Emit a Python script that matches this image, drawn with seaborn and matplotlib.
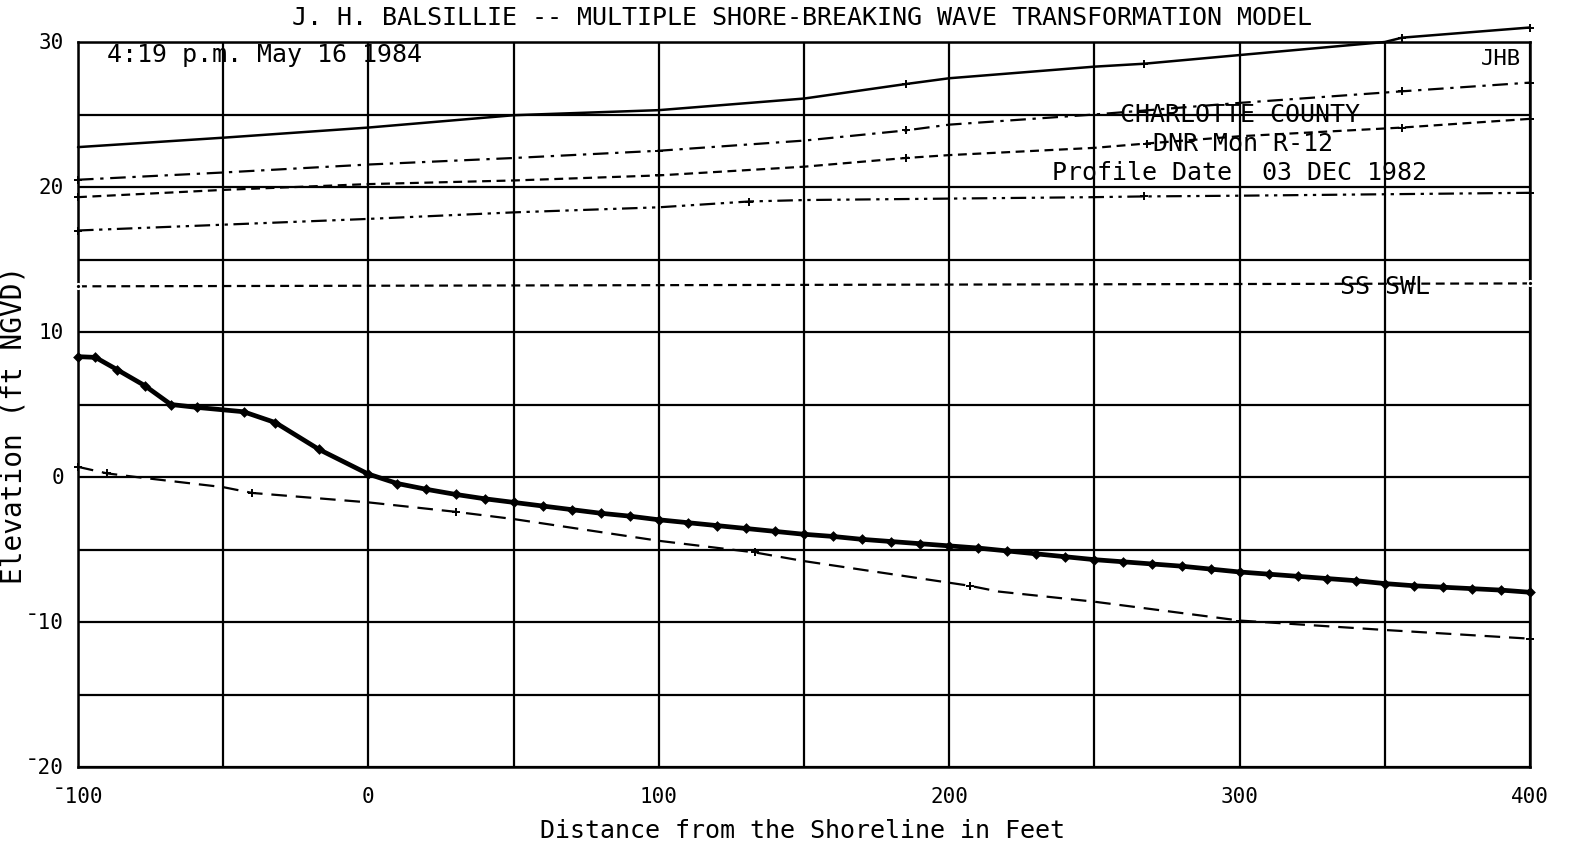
import numpy as np
import pandas as pd
import matplotlib
matplotlib.use("Agg")
import matplotlib.pyplot as plt
import seaborn as sns

# ---------------- data ----------------
# Upper solid line
s1_x = [-100, -50, 0, 50, 100, 150, 185, 200, 250, 267, 300, 350, 356, 400]
s1_y = [22.75, 23.4, 24.1, 24.95, 25.3, 26.1, 27.1, 27.5, 28.3, 28.5, 29.1, 30.0, 30.3, 31.0]
s1_mk = [100, 185, 267, 356, 400]

# Dash-dot line
s3_x = [-100, -50, 0, 50, 100, 150, 185, 200, 250, 300, 356, 400]
s3_y = [20.5, 21.0, 21.55, 22.0, 22.5, 23.2, 23.9, 24.3, 25.0, 25.8, 26.6, 27.2]
s3_mk = [-100, 100, 185, 356, 400]

# Dashed line
s4_x = [-100, -50, -25, 0, 50, 100, 150, 185, 200, 250, 268, 300, 356, 400]
s4_y = [19.3, 19.8, 20.0, 20.2, 20.45, 20.8, 21.4, 22.0, 22.2, 22.7, 23.0, 23.5, 24.1, 24.7]
s4_mk = [-100, 100, 185, 268, 356, 400]

# Dash-dot-dot line
s5_x = [-100, -50, 0, 50, 100, 131, 150, 200, 250, 267, 300, 350, 400]
s5_y = [17.0, 17.4, 17.8, 18.25, 18.6, 19.0, 19.1, 19.2, 19.3, 19.35, 19.4, 19.5, 19.6]
s5_mk = [-100, 131, 267, 400]

# Storm surge still water level (SS SWL)
swl_x = [-100, 400]
swl_y = [13.15, 13.35]

# Beach profile (thick line with markers)
prof_x = [-100, -94, -86.5, -77, -68, -59, -43, -32, -17, 0,
          10, 20, 30, 40, 50, 60, 70, 80, 90, 100,
          110, 120, 130, 140, 150, 160, 170, 180, 190, 200,
          210, 220, 230, 240, 250, 260, 270, 280, 290, 300,
          310, 320, 330, 340, 350, 360, 370, 380, 390, 400]
prof_y = [8.3, 8.25, 7.4, 6.3, 5.0, 4.8, 4.5, 3.75, 1.9, 0.2,
          -0.45, -0.85, -1.2, -1.5, -1.75, -2.0, -2.25, -2.5, -2.7, -2.95,
          -3.15, -3.35, -3.55, -3.75, -3.95, -4.1, -4.3, -4.45, -4.6, -4.75,
          -4.9, -5.1, -5.3, -5.5, -5.7, -5.85, -6.0, -6.15, -6.35, -6.55,
          -6.7, -6.85, -7.0, -7.15, -7.35, -7.5, -7.6, -7.7, -7.8, -7.95]

# Lower dashed line
low_x = [-100, -90, -80, -50, -40, 0, 30, 50, 100, 133, 150, 207, 217, 250, 300, 350, 400]
low_y = [0.7, 0.25, 0.0, -0.7, -1.1, -1.75, -2.4, -2.9, -4.4, -5.2, -5.8, -7.5, -7.9, -8.6, -9.9, -10.55, -11.15]
low_mk = [-100, -90, -40, 30, 133, 207, 300, 400]

x_ticks = [-100, 0, 100, 200, 300, 400]
x_labels = ["\u00af100", "0", "100", "200", "300", "400"]
y_ticks = [-20, -10, 0, 10, 20, 30]
y_labels = ["\u00af20", "\u00af10", "0", "10", "20", "30"]

title = "J. H. BALSILLIE -- MULTIPLE SHORE-BREAKING WAVE TRANSFORMATION MODEL"
stamp = "4:19 p.m. May 16 1984"
notes = ["CHARLOTTE COUNTY", "DNR Mon R-12", "Profile Date  03 DEC 1982"]

# ---------------- style ----------------
sns.set_theme(style="white")
plt.rcParams["font.family"] = ["DejaVu Sans Mono"]
FONT = "DejaVu Sans Mono"
INK = "black"
TXT = 18

fig = plt.figure(figsize=(15.73, 8.54), dpi=100)
ax = fig.add_axes([78 / 1573, 1 - 768 / 854, (1530 - 78) / 1573, (768 - 43) / 854])

ax.set_xlim(-100, 400)
ax.set_ylim(-20, 30)

# grid: every 50 ft and every 5 ft
ax.set_xticks(np.arange(-100, 401, 50))
ax.set_yticks(np.arange(-20, 31, 5))
ax.set_xticklabels([])
ax.set_yticklabels([])
ax.grid(True, color=INK, linewidth=1.6)
ax.tick_params(length=0)
for sp in ax.spines.values():
    sp.set_color(INK)
    sp.set_linewidth(1.8)


def line(xs, ys, ls, lw=1.6):
    df = pd.DataFrame({"x": xs, "y": ys})
    sns.lineplot(data=df, x="x", y="y", ax=ax, color=INK, linewidth=lw,
                 linestyle=ls, estimator=None, sort=False, clip_on=False)


def marks(xs, ys, mk, marker="+", size=40):
    df = pd.DataFrame({"x": xs, "y": ys})
    df = df[df["x"].isin(mk)]
    sns.scatterplot(data=df, x="x", y="y", ax=ax, color=INK, marker=marker,
                    s=size, linewidth=1.4, clip_on=False, zorder=5)


line(s1_x, s1_y, "-", 1.8)
marks(s1_x, s1_y, s1_mk)
line(s3_x, s3_y, (0, (7, 3, 1.5, 3)))
marks(s3_x, s3_y, s3_mk)
line(s4_x, s4_y, (0, (4, 2.5)))
marks(s4_x, s4_y, s4_mk)
line(s5_x, s5_y, (0, (7, 2.5, 1.5, 2.5, 1.5, 2.5)))
marks(s5_x, s5_y, s5_mk)
line(swl_x, swl_y, (0, (4, 2.5)))
marks(swl_x, swl_y, swl_x, marker="o", size=14)

line(prof_x, prof_y, "-", 3.4)
dfp = pd.DataFrame({"x": prof_x, "y": prof_y})
sns.scatterplot(data=dfp, x="x", y="y", ax=ax, color=INK, marker="D", s=30,
                linewidth=0, zorder=6, clip_on=False)

line(low_x, low_y, (0, (7, 4)), 1.6)
marks(low_x, low_y, low_mk, size=30)

ax.set_xlabel("")
ax.set_ylabel("")

# tick labels
for xv, lab in zip(x_ticks, x_labels):
    ax.annotate(lab, (xv, -20), xytext=(0, -21), textcoords="offset points",
                ha="center", va="center", fontsize=15, family=FONT, color=INK)
for yv, lab in zip(y_ticks, y_labels):
    ax.annotate(lab, (-100, yv), xytext=(-10, 0), textcoords="offset points",
                ha="right", va="center", fontsize=15, family=FONT, color=INK)

# titles / labels
fig.text(802 / 1573, 1 - 18 / 854, title, ha="center", va="center",
         fontsize=TXT, family=FONT, color=INK)
fig.text(803 / 1573, 1 - 831 / 854, "Distance from the Shoreline in Feet",
         ha="center", va="center", fontsize=TXT, family=FONT, color=INK)
fig.text(14 / 1573, 1 - 425 / 854, "Elevation (ft NGVD)", rotation=90,
         ha="center", va="center", fontsize=20, family=FONT, color=INK)

# annotations
ax.text(-90, 29.15, stamp, ha="left", va="center", fontsize=TXT, family=FONT, color=INK)
ax.text(397, 28.9, "JHB", ha="right", va="center", fontsize=16, family=FONT, color=INK)
ax.text(300, 25.05, notes[0], ha="center", va="center", fontsize=TXT, family=FONT, color=INK)
ax.text(301, 23.05, notes[1], ha="center", va="center", fontsize=TXT, family=FONT, color=INK)
ax.text(300, 21.0, notes[2], ha="center", va="center", fontsize=TXT, family=FONT, color=INK)
ax.text(350, 13.15, "SS SWL", ha="center", va="center", fontsize=TXT, family=FONT, color=INK)

fig.savefig("out.png", dpi=100, facecolor="white")
